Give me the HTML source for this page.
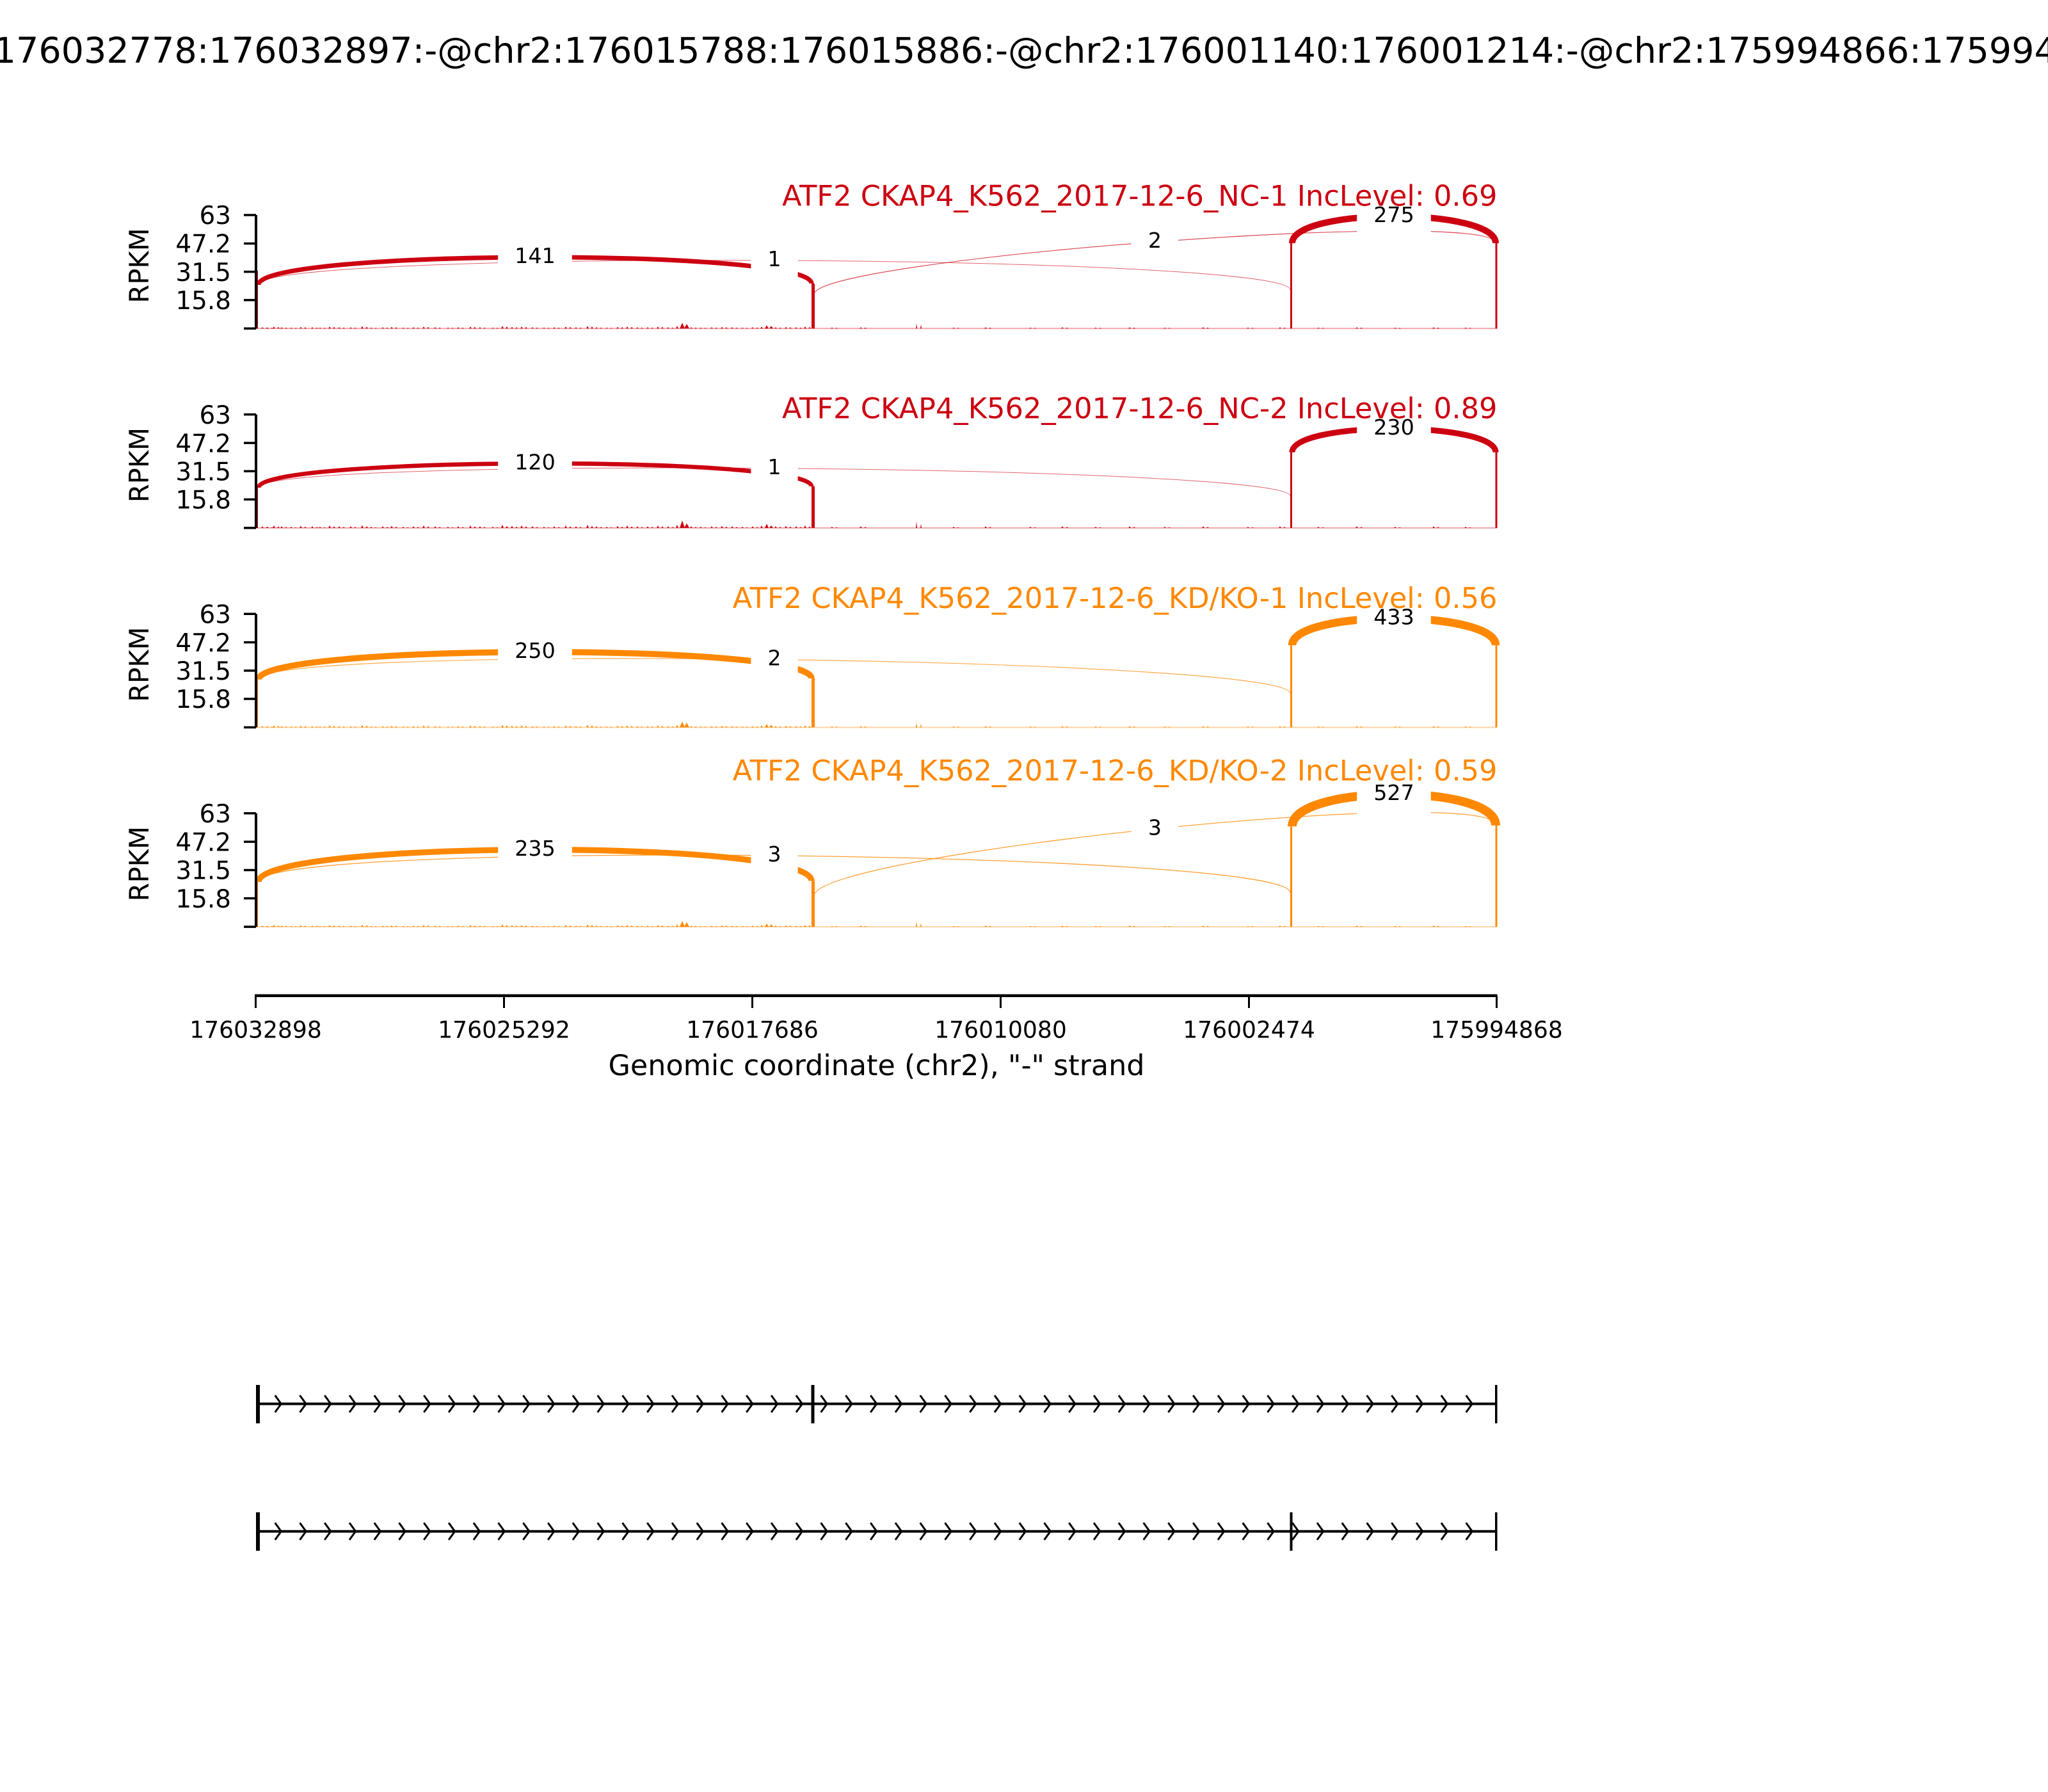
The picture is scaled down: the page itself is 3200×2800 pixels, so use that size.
<!DOCTYPE html>
<html>
<head>
<meta charset="utf-8">
<style>
html,body{margin:0;padding:0;background:#fff;}
svg{display:block;}
text{font-family:"DejaVu Sans","Liberation Sans",sans-serif;}
</style>
</head>
<body>
<svg width="3200" height="2800" viewBox="0 0 3200 2800" xmlns="http://www.w3.org/2000/svg">
<rect x="0" y="0" width="3200" height="2800" fill="#fff"/>
<defs>
<path id="noise" d="M408,0l2,-2l2,2ZM416,0l2,-1.5l2,1.5ZM426,0l2,-3l2,3ZM438,0l2,-2l2,2ZM453,0l2,-1.5l2,1.5ZM468,0l2,-2.5l2,2.5ZM486,0l2,-2l2,2ZM498,0l2,-1.5l2,1.5ZM513,0l2,-3l2,3ZM528,0l2,-2l2,2ZM546,0l2,-2l2,2ZM564,0l2,-3.5l2,3.5ZM578,0l2,-1.5l2,1.5ZM596,0l2,-2l2,2ZM610,0l2,-2.5l2,2.5ZM628,0l2,-1.5l2,1.5ZM644,0l2,-2l2,2ZM660,0l2,-3l2,3ZM678,0l2,-2l2,2ZM698,0l2,-1.5l2,1.5ZM714,0l2,-2l2,2ZM733,0l2,-3l2,3ZM748,0l2,-2l2,2ZM768,0l2,-1.5l2,1.5ZM783,0l2,-4l2,4ZM798,0l2,-2.5l2,2.5ZM813,0l2,-3l2,3ZM830,0l2,-2l2,2ZM848,0l2,-1.5l2,1.5ZM864,0l2,-2l2,2ZM882,0l2,-3l2,3ZM898,0l2,-2l2,2ZM916,0l2,-4l2,4ZM930,0l2,-2l2,2ZM946,0l2,-1.5l2,1.5ZM963,0l2,-2.5l2,2.5ZM978,0l2,-3l2,3ZM994,0l2,-2l2,2ZM1010,0l2,-2l2,2ZM1026,0l2,-3l2,3ZM1042,0l2,-2l2,2ZM1056,0l2,-4l2,4ZM1062,0l4,-9l4,9ZM1078,0l2,-2l2,2ZM1093,0l2,-1.5l2,1.5ZM1110,0l2,-2l2,2ZM1126,0l2,-2.5l2,2.5ZM1142,0l2,-2l2,2ZM1158,0l2,-1.5l2,1.5ZM1174,0l2,-2l2,2ZM1188,0l2,-3l2,3ZM1195,0l3,-5l3,5ZM1210,0l2,-2l2,2ZM1226,0l2,-2.5l2,2.5ZM1242,0l2,-2l2,2ZM1256,0l2,-3l2,3ZM1298,0l2,-1.5l2,1.5ZM1343,0l2,-2l2,2ZM1431,0l1,-8l1,8ZM1488,0l2,-1.5l2,1.5ZM1538,0l2,-2l2,2ZM1608,0l2,-1.5l2,1.5ZM1658,0l2,-2l2,2ZM1710,0l2,-1.5l2,1.5ZM1763,0l2,-2l2,2ZM1818,0l2,-1.5l2,1.5ZM1878,0l2,-2l2,2ZM1948,0l2,-1.5l2,1.5ZM1998,0l2,-2l2,2ZM2058,0l2,-1.5l2,1.5ZM2118,0l2,-2l2,2ZM2178,0l2,-1.5l2,1.5ZM2238,0l2,-2l2,2ZM2288,0l2,-1.5l2,1.5Z"/>
<path id="chev" d="M429.7,-13.3L439.3,0L429.7,13.3M468.5,-13.3L478.1,0L468.5,13.3M507.2,-13.3L516.8,0L507.2,13.3M546,-13.3L555.6,0L546,13.3M584.8,-13.3L594.4,0L584.8,13.3M623.5,-13.3L633.1,0L623.5,13.3M662.3,-13.3L671.9,0L662.3,13.3M701.1,-13.3L710.7,0L701.1,13.3M739.9,-13.3L749.5,0L739.9,13.3M778.6,-13.3L788.2,0L778.6,13.3M817.4,-13.3L827,0L817.4,13.3M856.2,-13.3L865.8,0L856.2,13.3M894.9,-13.3L904.5,0L894.9,13.3M933.7,-13.3L943.3,0L933.7,13.3M972.5,-13.3L982.1,0L972.5,13.3M1011.3,-13.3L1020.9,0L1011.3,13.3M1050,-13.3L1059.6,0L1050,13.3M1088.8,-13.3L1098.4,0L1088.8,13.3M1127.6,-13.3L1137.2,0L1127.6,13.3M1166.3,-13.3L1175.9,0L1166.3,13.3M1205.1,-13.3L1214.7,0L1205.1,13.3M1243.9,-13.3L1253.5,0L1243.9,13.3M1282.6,-13.3L1292.2,0L1282.6,13.3M1321.4,-13.3L1331,0L1321.4,13.3M1360.2,-13.3L1369.8,0L1360.2,13.3M1399,-13.3L1408.6,0L1399,13.3M1437.7,-13.3L1447.3,0L1437.7,13.3M1476.5,-13.3L1486.1,0L1476.5,13.3M1515.3,-13.3L1524.9,0L1515.3,13.3M1554,-13.3L1563.6,0L1554,13.3M1592.8,-13.3L1602.4,0L1592.8,13.3M1631.6,-13.3L1641.2,0L1631.6,13.3M1670.3,-13.3L1679.9,0L1670.3,13.3M1709.1,-13.3L1718.7,0L1709.1,13.3M1747.9,-13.3L1757.5,0L1747.9,13.3M1786.7,-13.3L1796.3,0L1786.7,13.3M1825.4,-13.3L1835,0L1825.4,13.3M1864.2,-13.3L1873.8,0L1864.2,13.3M1903,-13.3L1912.6,0L1903,13.3M1941.7,-13.3L1951.3,0L1941.7,13.3M1980.5,-13.3L1990.1,0L1980.5,13.3M2019.3,-13.3L2028.9,0L2019.3,13.3M2058,-13.3L2067.6,0L2058,13.3M2096.8,-13.3L2106.4,0L2096.8,13.3M2135.6,-13.3L2145.2,0L2135.6,13.3M2174.4,-13.3L2184,0L2174.4,13.3M2213.1,-13.3L2222.7,0L2213.1,13.3M2251.9,-13.3L2261.5,0L2251.9,13.3M2290.7,-13.3L2300.3,0L2290.7,13.3"/>
</defs>

<!-- Title -->
<text x="-153" y="98" font-size="55.56" fill="#000">chr2:176032778:176032897:-@chr2:176015788:176015886:-@chr2:176001140:176001214:-@chr2:175994866:175994990:-</text>

<!-- ================= PANEL 1 ================= -->
<g>
  <use href="#noise" transform="translate(0,513.3)" fill="#CC0011"/>
  <use href="#noise" transform="translate(7,513.3) scale(1,0.8)" fill="#CC0011"/>
  <line x1="400" y1="513.3" x2="2339" y2="513.3" stroke="#CC0011" stroke-opacity="0.35" stroke-width="2"/>
  <rect x="400" y="423" width="3" height="90.3" fill="#CC0011"/>
  <rect x="1268" y="443" width="5" height="70.3" fill="#CC0011"/>
  <rect x="2016" y="380" width="3" height="133.3" fill="#CC0011"/>
  <rect x="2336.5" y="380" width="3" height="133.3" fill="#CC0011"/>
  <g fill="none" stroke="#CC0011">
    <path d="M404,445 C404,389 1268,387 1268,443" stroke-width="7.1"/>
    <path d="M404,445 C404,389 2016,397 2016,453" stroke-width="1" stroke-opacity="0.6"/>
    <path d="M1272,460 C1272,404 2337,324 2337,380" stroke-width="1.2" stroke-opacity="0.7"/>
    <path d="M2019,380 C2019,324 2337,324 2337,380" stroke-width="9.95"/>
  </g>
  <g fill="#fff">
    <rect x="778.2" y="360" width="115.6" height="84"/>
    <rect x="1173.4" y="365" width="73.2" height="84"/>
    <rect x="1767.9" y="336" width="73.2" height="84"/>
    <rect x="2120.2" y="296" width="115.6" height="84"/>
  </g>
  <g font-size="33.3" text-anchor="middle" fill="#000">
    <text x="836" y="411.2">141</text>
    <text x="1210" y="416.2">1</text>
    <text x="1804.5" y="387.2">2</text>
    <text x="2178" y="347.2">275</text>
  </g>
  <text x="2339.5" y="321.7" font-size="44.7" text-anchor="end" fill="#CC0011">ATF2 CKAP4_K562_2017-12-6_NC-1 IncLevel: 0.69</text>
  <line x1="400" y1="336" x2="400" y2="513.3" stroke="#000" stroke-width="4"/>
  <g stroke="#000" stroke-width="3.5">
    <line x1="381" y1="336" x2="400" y2="336"/>
    <line x1="381" y1="380.47" x2="400" y2="380.47"/>
    <line x1="381" y1="424.65" x2="400" y2="424.65"/>
    <line x1="381" y1="468.83" x2="400" y2="468.83"/>
    <line x1="381" y1="513.3" x2="400" y2="513.3"/>
  </g>
  <g font-size="38.9" text-anchor="end" fill="#000">
    <text x="361" y="350.2">63</text>
    <text x="361" y="394.7">47.2</text>
    <text x="361" y="438.9">31.5</text>
    <text x="361" y="483">15.8</text>
  </g>
  <text transform="translate(232,415) rotate(-90)" font-size="41.7" text-anchor="middle" fill="#000">RPKM</text>
</g>

<!-- ================= PANEL 2 ================= -->
<g>
  <use href="#noise" transform="translate(0,824.9) scale(1,1.3)" fill="#CC0011"/>
  <use href="#noise" transform="translate(7,824.9) scale(1,0.8)" fill="#CC0011"/>
  <line x1="400" y1="824.9" x2="2339" y2="824.9" stroke="#CC0011" stroke-opacity="0.35" stroke-width="2"/>
  <rect x="400" y="762" width="3" height="62.9" fill="#CC0011"/>
  <rect x="1268" y="760" width="5" height="64.9" fill="#CC0011"/>
  <rect x="2016" y="706.7" width="3" height="118.2" fill="#CC0011"/>
  <rect x="2336.5" y="706.7" width="3" height="118.2" fill="#CC0011"/>
  <g fill="none" stroke="#CC0011">
    <path d="M404,762 C404,713 1268,711 1268,760" stroke-width="6.6"/>
    <path d="M404,762 C404,713 2016,726 2016,775" stroke-width="1" stroke-opacity="0.6"/>
    <path d="M2019,706.7 C2019,657.7 2337,657.7 2337,706.7" stroke-width="9.1"/>
  </g>
  <g fill="#fff">
    <rect x="778.2" y="682.25" width="115.6" height="84"/>
    <rect x="1173.4" y="689.75" width="73.2" height="84"/>
    <rect x="2120.2" y="627.95" width="115.6" height="84"/>
  </g>
  <g font-size="33.3" text-anchor="middle" fill="#000">
    <text x="836" y="733.45">120</text>
    <text x="1210" y="740.95">1</text>
    <text x="2178" y="679.15">230</text>
  </g>
  <text x="2339.5" y="653.3" font-size="44.7" text-anchor="end" fill="#CC0011">ATF2 CKAP4_K562_2017-12-6_NC-2 IncLevel: 0.89</text>
  <line x1="400" y1="647.6" x2="400" y2="824.9" stroke="#000" stroke-width="4"/>
  <g stroke="#000" stroke-width="3.5">
    <line x1="381" y1="647.6" x2="400" y2="647.6"/>
    <line x1="381" y1="692.07" x2="400" y2="692.07"/>
    <line x1="381" y1="736.25" x2="400" y2="736.25"/>
    <line x1="381" y1="780.43" x2="400" y2="780.43"/>
    <line x1="381" y1="824.9" x2="400" y2="824.9"/>
  </g>
  <g font-size="38.9" text-anchor="end" fill="#000">
    <text x="361" y="661.8">63</text>
    <text x="361" y="706.3">47.2</text>
    <text x="361" y="750.5">31.5</text>
    <text x="361" y="794.6">15.8</text>
  </g>
  <text transform="translate(232,726.6) rotate(-90)" font-size="41.7" text-anchor="middle" fill="#000">RPKM</text>
</g>

<!-- ================= PANEL 3 ================= -->
<g>
  <use href="#noise" transform="translate(0,1136.5)" fill="#FF8800"/>
  <use href="#noise" transform="translate(7,1136.5) scale(1,0.8)" fill="#FF8800"/>
  <line x1="400" y1="1136.5" x2="2339" y2="1136.5" stroke="#FF8800" stroke-opacity="0.35" stroke-width="2"/>
  <rect x="400" y="1061.7" width="3" height="74.8" fill="#FF8800"/>
  <rect x="1268" y="1060" width="5" height="76.5" fill="#FF8800"/>
  <rect x="2016" y="1008.3" width="3" height="128.2" fill="#FF8800"/>
  <rect x="2336.5" y="1008.3" width="3" height="128.2" fill="#FF8800"/>
  <g fill="none" stroke="#FF8800">
    <path d="M404,1061.7 C404,1005.7 1268,1004 1268,1060" stroke-width="9.5"/>
    <path d="M404,1061.7 C404,1005.7 2016,1027.3 2016,1083.3" stroke-width="1.2" stroke-opacity="0.7"/>
    <path d="M2019,1008.3 C2019,952.3 2337,952.3 2337,1008.3" stroke-width="12.5"/>
  </g>
  <g fill="#fff">
    <rect x="778.2" y="976.85" width="115.6" height="84"/>
    <rect x="1173.4" y="988.5" width="73.2" height="84"/>
    <rect x="2120.2" y="924.3" width="115.6" height="84"/>
  </g>
  <g font-size="33.3" text-anchor="middle" fill="#000">
    <text x="836" y="1028.05">250</text>
    <text x="1210" y="1039.7">2</text>
    <text x="2178" y="975.5">433</text>
  </g>
  <text x="2339.5" y="950" font-size="44.7" text-anchor="end" fill="#FF8800">ATF2 CKAP4_K562_2017-12-6_KD/KO-1 IncLevel: 0.56</text>
  <line x1="400" y1="959.2" x2="400" y2="1136.5" stroke="#000" stroke-width="4"/>
  <g stroke="#000" stroke-width="3.5">
    <line x1="381" y1="959.2" x2="400" y2="959.2"/>
    <line x1="381" y1="1003.67" x2="400" y2="1003.67"/>
    <line x1="381" y1="1047.85" x2="400" y2="1047.85"/>
    <line x1="381" y1="1092.03" x2="400" y2="1092.03"/>
    <line x1="381" y1="1136.5" x2="400" y2="1136.5"/>
  </g>
  <g font-size="38.9" text-anchor="end" fill="#000">
    <text x="361" y="973.4">63</text>
    <text x="361" y="1017.9">47.2</text>
    <text x="361" y="1062.1">31.5</text>
    <text x="361" y="1106.2">15.8</text>
  </g>
  <text transform="translate(232,1038.2) rotate(-90)" font-size="41.7" text-anchor="middle" fill="#000">RPKM</text>
</g>

<!-- ================= PANEL 4 ================= -->
<g>
  <use href="#noise" transform="translate(0,1448.1)" fill="#FF8800"/>
  <use href="#noise" transform="translate(7,1448.1) scale(1,0.8)" fill="#FF8800"/>
  <line x1="400" y1="1448.1" x2="2339" y2="1448.1" stroke="#FF8800" stroke-opacity="0.35" stroke-width="2"/>
  <rect x="400" y="1378" width="3" height="70.1" fill="#FF8800"/>
  <rect x="1268" y="1376.3" width="5" height="71.8" fill="#FF8800"/>
  <rect x="2016" y="1291.3" width="3" height="156.8" fill="#FF8800"/>
  <rect x="2336.5" y="1289.7" width="3" height="158.4" fill="#FF8800"/>
  <g fill="none" stroke="#FF8800">
    <path d="M404,1378 C404,1312 1268,1310.3 1268,1376.3" stroke-width="9.2"/>
    <path d="M404,1378 C404,1312 2016,1328.7 2016,1394.7" stroke-width="1.3" stroke-opacity="0.8"/>
    <path d="M1272,1399.7 C1272,1333.7 2337,1223.7 2337,1289.7" stroke-width="1.3" stroke-opacity="0.8"/>
    <path d="M2019,1291.3 C2019,1225.3 2337,1223.7 2337,1289.7" stroke-width="13.8"/>
  </g>
  <g fill="#fff">
    <rect x="778.2" y="1285.65" width="115.6" height="84"/>
    <rect x="1173.4" y="1294.85" width="73.2" height="84"/>
    <rect x="1767.9" y="1253.2" width="73.2" height="84"/>
    <rect x="2120.2" y="1199" width="115.6" height="84"/>
  </g>
  <g font-size="33.3" text-anchor="middle" fill="#000">
    <text x="836" y="1336.85">235</text>
    <text x="1210" y="1346.05">3</text>
    <text x="1804.5" y="1304.4">3</text>
    <text x="2178" y="1250.2">527</text>
  </g>
  <text x="2339.5" y="1219.5" font-size="44.7" text-anchor="end" fill="#FF8800">ATF2 CKAP4_K562_2017-12-6_KD/KO-2 IncLevel: 0.59</text>
  <line x1="400" y1="1270.8" x2="400" y2="1448.1" stroke="#000" stroke-width="4"/>
  <g stroke="#000" stroke-width="3.5">
    <line x1="381" y1="1270.8" x2="400" y2="1270.8"/>
    <line x1="381" y1="1315.27" x2="400" y2="1315.27"/>
    <line x1="381" y1="1359.45" x2="400" y2="1359.45"/>
    <line x1="381" y1="1403.63" x2="400" y2="1403.63"/>
    <line x1="381" y1="1448.1" x2="400" y2="1448.1"/>
  </g>
  <g font-size="38.9" text-anchor="end" fill="#000">
    <text x="361" y="1285">63</text>
    <text x="361" y="1329.5">47.2</text>
    <text x="361" y="1373.7">31.5</text>
    <text x="361" y="1417.8">15.8</text>
  </g>
  <text transform="translate(232,1349.8) rotate(-90)" font-size="41.7" text-anchor="middle" fill="#000">RPKM</text>
</g>

<!-- ================= X AXIS ================= -->
<rect x="398" y="1553.5" width="1941.5" height="4.5" fill="#000"/>
<g stroke="#000" stroke-width="3">
  <line x1="399.5" y1="1556" x2="399.5" y2="1575"/>
  <line x1="787.5" y1="1556" x2="787.5" y2="1575"/>
  <line x1="1175.5" y1="1556" x2="1175.5" y2="1575"/>
  <line x1="1563.5" y1="1556" x2="1563.5" y2="1575"/>
  <line x1="1951.5" y1="1556" x2="1951.5" y2="1575"/>
  <line x1="2338.5" y1="1556" x2="2338.5" y2="1575"/>
</g>
<g font-size="36.1" text-anchor="middle" fill="#000">
  <text x="399.5" y="1621.5">176032898</text>
  <text x="787.5" y="1621.5">176025292</text>
  <text x="1175.5" y="1621.5">176017686</text>
  <text x="1563.5" y="1621.5">176010080</text>
  <text x="1951.5" y="1621.5">176002474</text>
  <text x="2338.5" y="1621.5">175994868</text>
</g>
<text x="1369.5" y="1680" font-size="44.44" text-anchor="middle" fill="#000">Genomic coordinate (chr2), "-" strand</text>

<!-- ================= GENE MODELS ================= -->
<g>
  <line x1="403" y1="2193.5" x2="2338" y2="2193.5" stroke="#000" stroke-width="4"/>
  <use href="#chev" transform="translate(0,2193.5)" fill="none" stroke="#000" stroke-width="3"/>
  <rect x="400" y="2164" width="6" height="60" fill="#000"/>
  <rect x="1267.5" y="2164" width="5" height="60" fill="#000"/>
  <rect x="2336" y="2164" width="3.5" height="60" fill="#000"/>
</g>
<g>
  <line x1="403" y1="2392.7" x2="2338" y2="2392.7" stroke="#000" stroke-width="4"/>
  <use href="#chev" transform="translate(0,2392.7)" fill="none" stroke="#000" stroke-width="3"/>
  <rect x="400" y="2363" width="6" height="60" fill="#000"/>
  <rect x="2015.5" y="2363" width="4" height="60" fill="#000"/>
  <rect x="2336" y="2363" width="3.5" height="60" fill="#000"/>
</g>
</svg>
</body>
</html>
